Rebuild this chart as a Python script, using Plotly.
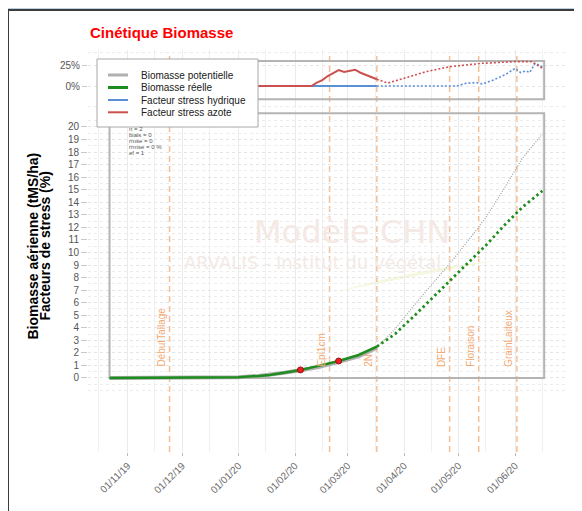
import plotly.graph_objects as go
import pandas as pd

# la page ajoute une marge de 8 px autour de la figure
OFF = 8
W, H = 582 - OFF, 511 - OFF


def px(x):
    # pixel de la page -> coordonnée paper (horizontal)
    return (x - OFF) / W


def py(y):
    # pixel de la page -> coordonnée paper (vertical, origine en haut)
    return 1 - (y - OFF) / H


# Biomasse simulée jusqu'au 2N (trait plein)
dates_sim = ["2019-10-22", "2019-11-15", "2019-12-01", "2019-12-15", "2020-01-01", "2020-01-12",
             "2020-01-18", "2020-01-26", "2020-02-04", "2020-02-14", "2020-02-25", "2020-03-07",
             "2020-03-17"]
biomasse_reelle = [0, 0, 0.005, 0.02, 0.06, 0.16, 0.24, 0.42, 0.64, 0.96, 1.35, 1.83, 2.5]
biomasse_pot = [0, 0, 0.005, 0.02, 0.06, 0.16, 0.24, 0.42, 0.62, 0.86, 1.28, 1.72, 2.42]

# Prévision après le 2N (pointillés)
dates_prev = ["2020-03-17", "2020-03-27", "2020-04-06", "2020-04-16", "2020-04-26", "2020-05-06",
              "2020-05-16", "2020-05-26", "2020-06-05", "2020-06-16"]
reelle_prev = [2.5, 3.5, 4.87, 6.3, 7.8, 9.15, 10.57, 12.15, 13.6, 14.9]
pot_prev = [2.45, 3.9, 5.7, 7.4, 9.1, 10.9, 12.8, 15.1, 17.5, 19.45]

# Mesures
dates_mesures = ["2020-02-04", "2020-02-25"]
mesures = [0.64, 1.35]

# Facteurs de stress (%)
dates_azote = ["2019-10-22", "2020-02-10", "2020-02-13", "2020-02-16", "2020-02-19", "2020-02-22",
               "2020-02-25", "2020-02-28", "2020-03-02", "2020-03-05", "2020-03-08", "2020-03-11",
               "2020-03-14", "2020-03-17"]
azote = [0, 0, 3.9, 7.1, 11.9, 15.8, 19, 16.7, 17.9, 19.4, 15.8, 13.1, 10.3, 8]
dates_azote_prev = ["2020-03-17", "2020-03-23", "2020-04-03", "2020-04-13", "2020-04-26", "2020-05-14",
                    "2020-06-01", "2020-06-10", "2020-06-16"]
azote_prev = [8, 3.5, 10.5, 17, 23, 27, 29, 29, 21]
dates_hydrique = ["2019-10-22", "2020-03-17"]
hydrique = [0, 0]
dates_hydrique_prev = ["2020-03-17", "2020-04-30", "2020-05-05", "2020-05-11", "2020-05-14", "2020-05-20",
                       "2020-05-27", "2020-06-01", "2020-06-04", "2020-06-07", "2020-06-09", "2020-06-12",
                       "2020-06-16"]
hydrique_prev = [0, 0, 3.2, 4, 2.4, 7, 14, 21, 16, 18, 16, 27, 23]

# Stades
stades = ["DébutTallage", "Epi1cm", "2N", "DFE", "Floraison", "GrainLaiteux"]
dates_stades = ["2019-11-24", "2020-02-20", "2020-03-17", "2020-04-26", "2020-05-12", "2020-06-02"]

# Statistiques
stats = ["n = 2", "biais = 0", "rmse = 0", "rrmse = 0 %", "ef = 1"]

# Légende
legende_noms = ["Biomasse potentielle", "Biomasse réelle", "Facteur stress hydrique", "Facteur stress azote"]
legende_couleurs = ["#b0b0b0", "#1e8c1e", "#5a8fd6", "#cd5050"]
legende_largeurs = [3, 3, 2, 2]

GRIS, VERT, BLEU, ROUGE = legende_couleurs
ORANGE = "#f5bf94"
FONT = "Liberation Sans"

fig = go.Figure()

# Panneau stress
fig.add_trace(go.Scatter(x=dates_hydrique, y=hydrique, mode="lines", line=dict(color=BLEU, width=2),
                         xaxis="x2", yaxis="y2"))
fig.add_trace(go.Scatter(x=dates_hydrique_prev, y=hydrique_prev, mode="lines",
                         line=dict(color=BLEU, width=1.6, dash="2px,2px"), xaxis="x2", yaxis="y2"))
fig.add_trace(go.Scatter(x=dates_azote, y=azote, mode="lines", line=dict(color=ROUGE, width=2),
                         xaxis="x2", yaxis="y2"))
fig.add_trace(go.Scatter(x=dates_azote_prev, y=azote_prev, mode="lines",
                         line=dict(color=ROUGE, width=1.6, dash="2px,2px"), xaxis="x2", yaxis="y2"))

# Panneau biomasse
fig.add_trace(go.Scatter(x=dates_sim, y=biomasse_pot, mode="lines", line=dict(color=GRIS, width=4)))
fig.add_trace(go.Scatter(x=dates_prev, y=pot_prev, mode="lines",
                         line=dict(color="#a0a0a0", width=1.2, dash="1px,1.5px")))
fig.add_trace(go.Scatter(x=dates_sim, y=biomasse_reelle, mode="lines", line=dict(color=VERT, width=2.5)))
fig.add_trace(go.Scatter(x=dates_prev, y=reelle_prev, mode="lines",
                         line=dict(color=VERT, width=2.8, dash="2.5px,3px")))
fig.add_trace(go.Scatter(x=dates_mesures, y=mesures, mode="markers",
                         marker=dict(color="#e82020", size=6, line=dict(color="#a01010", width=1))))

shapes = []

# panneau blanc bordé de gris foncé
shapes.append(dict(type="rect", xref="paper", yref="paper", x0=px(8), x1=px(620), y0=py(560), y1=py(10),
                   fillcolor="white", line=dict(color="#3c3c3c", width=2), layer="below"))

# filigrane (trait jaune)
pts = [(335, 292), (420, 268), (495, 261), (420, 275)]
chemin = "M {:.4f},{:.4f} Q {:.4f},{:.4f} {:.4f},{:.4f} Q {:.4f},{:.4f} {:.4f},{:.4f} Z".format(
    px(pts[0][0]), py(pts[0][1]), px(pts[1][0]), py(pts[1][1]), px(pts[2][0]), py(pts[2][1]),
    px(pts[3][0]), py(pts[3][1]), px(pts[0][0]), py(pts[0][1]))
shapes.append(dict(type="path", xref="paper", yref="paper", path=chemin, fillcolor="#f5f7df",
                   line=dict(width=0), layer="below"))

# cadres des deux panneaux
shapes.append(dict(type="rect", xref="x", yref="y", x0="2019-10-22", x1="2020-06-17", y0=0, y1=21.1,
                   line=dict(color="#b4b4b4", width=2), layer="between"))
shapes.append(dict(type="rect", xref="x2", yref="y2", x0="2019-10-22", x1="2020-06-17", y0=-15.8, y1=29.8,
                   line=dict(color="#b4b4b4", width=2), layer="between"))

# stades
for d in dates_stades:
    shapes.append(dict(type="line", xref="x", yref="paper", x0=d, x1=d, y0=py(452), y1=py(52),
                       line=dict(color=ORANGE, width=1.5, dash="6px,4px"), layer="between"))

# légende
shapes.append(dict(type="rect", xref="paper", yref="paper", x0=px(97), x1=px(258), y0=py(127), y1=py(59),
                   fillcolor="white", line=dict(color="#a8a8a8", width=1), layer="above"))
lignes_y = [75, 87.5, 100, 112.3]
for col, lw, yy in zip(legende_couleurs, legende_largeurs, lignes_y):
    shapes.append(dict(type="line", xref="paper", yref="paper", x0=px(108), x1=px(128), y0=py(yy), y1=py(yy),
                       line=dict(color=col, width=lw), layer="above"))

annotations = []
annotations.append(dict(text="<b>Cinétique Biomasse</b>", x=px(88), y=py(33), xref="paper", yref="paper",
                        xanchor="left", yanchor="middle", showarrow=False,
                        font=dict(family=FONT, size=15, color="#ff0000")))
for nom, yy in zip(legende_noms, lignes_y):
    annotations.append(dict(text=nom, x=px(139), y=py(yy), xref="paper", yref="paper", xanchor="left",
                            yanchor="middle", showarrow=False, font=dict(family=FONT, size=10, color="#202020")))
for i, s in enumerate(stats):
    annotations.append(dict(text=s, x=px(127), y=py(129 + 5.9 * i), xref="paper", yref="paper", xanchor="left",
                            yanchor="middle", showarrow=False, font=dict(family=FONT, size=6, color="#555555")))
for nom, d in zip(stades, dates_stades):
    annotations.append(dict(text=nom, x=d, y=py(369), xref="x", yref="paper", xanchor="right", yanchor="bottom",
                            xshift=-1, textangle=-90, showarrow=False,
                            font=dict(family=FONT, size=10, color="#f2aa74")))
annotations.append(dict(text="Modèle CHN", x=px(352), y=py(232), xref="paper", yref="paper", showarrow=False,
                        font=dict(family="DejaVu Sans", size=32, color="#f4e9e5")))
annotations.append(dict(text="ARVALIS - Institut du végétal", x=px(312), y=py(262), xref="paper", yref="paper",
                        showarrow=False, font=dict(family="DejaVu Sans", size=18, color="#f3eae6")))
annotations.append(dict(text="<b>Biomasse aérienne (tMS/ha)</b>", x=px(32.5), y=py(246), xref="paper",
                        yref="paper", xanchor="center", yanchor="middle", textangle=-90, showarrow=False,
                        font=dict(family=FONT, size=14, color="black")))
annotations.append(dict(text="<b>Facteurs de stress (%)</b>", x=px(44.5), y=py(246), xref="paper", yref="paper",
                        xanchor="center", yanchor="middle", textangle=-90, showarrow=False,
                        font=dict(family=FONT, size=14, color="black")))

mois = pd.date_range("2019-11-01", "2020-06-01", freq="MS")
mi_mois = pd.date_range("2019-10-01", "2020-06-01", freq="MS") + pd.Timedelta(days=15)
x_range = ["2019-10-10 04:00", "2020-06-29"]

axe_x = dict(domain=[px(88), px(566)], range=x_range, type="date", showgrid=True, gridcolor="#ebebeb",
             gridwidth=1, zeroline=False, showline=False,
             minor=dict(tickvals=list(mi_mois), showgrid=True, gridcolor="#f0f0f0", ticks=""))

fig.update_layout(
    width=W, height=H, autosize=False, margin=dict(l=0, r=0, t=0, b=0),
    paper_bgcolor="#bdd1e2", plot_bgcolor="rgba(0,0,0,0)", showlegend=False,
    font=dict(family=FONT),
    xaxis=dict(axe_x, anchor="y", tickvals=list(mois), tickformat="%d/%m/%y", tickangle=-45,
               ticks="outside", ticklen=3, tickcolor="#bbbbbb",
               tickfont=dict(family=FONT, size=10, color="#6a6a6a")),
    xaxis2=dict(axe_x, anchor="y2", matches="x", tickvals=list(mois), showticklabels=False, ticks=""),
    yaxis=dict(domain=[py(452), py(110)], range=[-5.9, 21.35], tickvals=list(range(0, 21)),
               ticks="outside", ticklen=6, tickcolor="#c8c8c8", showgrid=True, gridcolor="#e4e4e4",
               griddash="dot", zeroline=False, showline=False,
               tickfont=dict(family=FONT, size=10, color="#555555"),
               minor=dict(tickvals=[-1] + [v + 0.5 for v in range(-1, 21)],
                          showgrid=True, gridcolor="#ececec", griddash="dot", ticks="")),
    yaxis2=dict(domain=[py(108), py(50)], range=[-26.2, 42.86], tickvals=[0, 25], ticktext=["0%", "25%"],
                ticks="outside", ticklen=5, tickcolor="#c8c8c8", showgrid=True, gridcolor="#e6e6e6",
                griddash="dot", zeroline=False, showline=False,
                tickfont=dict(family=FONT, size=10, color="#555555"),
                minor=dict(tickvals=[-25, 40], showgrid=True, gridcolor="#ececec", griddash="dot", ticks="")),
    shapes=shapes,
    annotations=annotations,
)

fig.write_html("out.html")
